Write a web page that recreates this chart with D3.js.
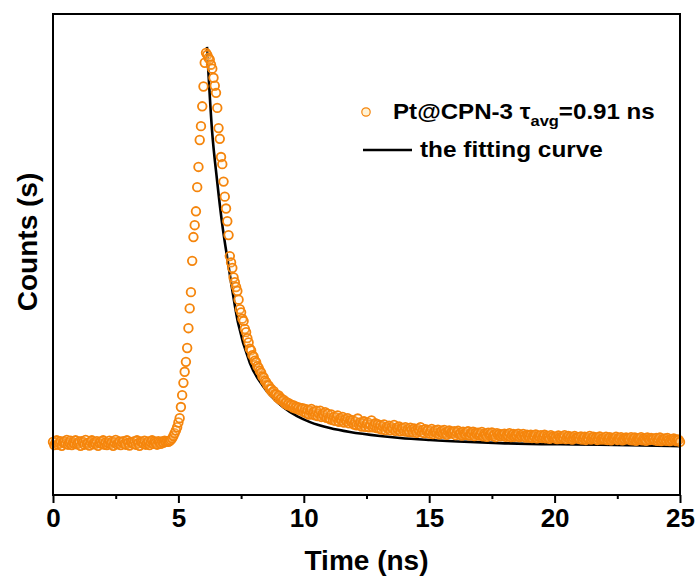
<!DOCTYPE html>
<html><head><meta charset="utf-8">
<script src="https://cdn.jsdelivr.net/npm/d3@7"></script>
<style>body{margin:0;background:#fff}</style>
</head><body>
<svg id="chart" width="697" height="577"></svg>
<script>
// TCSPC channel grid
const timeStart = 0;
const channelWidth = 0.05; // ns

// Counts per channel (arbitrary units)
const baselineCounts = [
  3,-5,2,7,-4,0,5,-7,2,4,-2,8,-4,1,6,-5,2,-2,7,-3,
  0,4,-7,5,2,-4,8,-2,1,-6,3,7,-3,2,-2,5,-7,0,4,-2,
  7,-4,2,-5,0,6,-2,3,-7,2,8,-3,0,4,-5,2,5,-2,-4,7,
  1,-6,3,2,-2,5,-4,7,0,-7,4,2,-2,6,-4,0,4,-5,2,7,
  -2,4,1,-4,5,2,-2,4,1,6,3,5
];
const riseCounts = [
  3,5,8,12,18,25,32,40,52,63,91,121,152,180,205,240,290,340,381,460,
  520,550,585,646,697,765,800,850,900,960,985
];
const decayCounts = [
  980,972,968,955,945,922,902,884,846,795,768,722,704,660,622,592,560,525,
  472,456,442,418,406,394,384,362,338,330,314,308,288,280,265,254,238,234,222,218,
  208,204,194,190,182,178,168,166,157,154,146,145,136,137,128,131,124,123,115,120,
  110,113,106,109,100,104,96,101,94,97,90,95,88,92,86,90,83,87
];
const tailCounts = [
  88,78,86,76,84,72,82,86,72,79,70,82,68,75,82,66,74,69,78,64,
  74,63,60,72,58,66,56,65,70,54,62,57,66,52,60,55,63,50,58,53,
  58,47,54,45,62,46,52,42,50,55,41,48,52,40,47,57,40,45,50,38,
  48,37,45,34,42,47,33,41,37,44,32,40,36,46,31,39,35,42,30,38,
  37,30,40,29,35,28,39,34,27,37,32,26,36,31,40,27,33,25,35,30,
  33,24,30,36,23,29,32,25,34,22,28,31,24,33,26,21,29,32,24,28,
  25,30,20,27,31,22,26,19,29,24,21,28,30,19,25,23,29,18,26,22,
  26,19,23,28,17,24,21,16,26,20,23,27,18,22,15,25,20,23,17,22,
  20,24,16,21,18,25,15,20,23,16,21,18,24,15,20,17,23,18,14,21,
  18,14,21,13,19,16,22,12,18,15,20,13,17,21,12,18,15,11,20,14,
  17,12,16,10,19,14,11,16,13,20,10,15,18,11,16,9,14,18,12,15,
  14,10,17,9,13,16,8,14,11,18,9,13,16,10,14,8,13,17,9,12,
  13,9,16,8,12,15,7,13,10,12,16,8,13,10,15,7,12,9,14,11,
  12,8,15,7,11,14,6,12,9,11,15,7,12,9,6,14,10,8,13,10,
  11,7,13,6,10,14,5,10,8,12,6,13,8,5,10,7,12,8,5,9,
  8,3
];

// Fitting curve
const fitTime   = [6.14,6.34,6.54,6.74,6.98,7.38,7.85,8.37,9.17,9.73,10.25,11.04,11.84,13.04,13.84,15.03,16.63,17.82,20.22,21.81,25.0];
const fitCounts = [1000,790,664,556,455,303,202,144,91,68,53,38,28,18,13,8,3,0,-3,-4,-8];

const xTicks = [0,5,10,15,20,25];
const xMinorTicks = [2.5,7.5,12.5,17.5,22.5];
const xTitle = "Time (ns)";
const yTitle = "Counts (s)";
const legendSample = "Pt@CPN-3";
const legendFit = "the fitting curve";

const allCounts = baselineCounts.concat(riseCounts, decayCounts, tailCounts);
const data = allCounts.map((c, i) => ({t: timeStart + i * channelWidth, c}));
const fit = fitTime.map((t, i) => ({t, c: fitCounts[i]}));

const svg = d3.select("#chart");
const L = 53, R = 680, T = 14, B = 495;
const x = d3.scaleLinear().domain([0, 25]).range([L, R]);
const y = d3.scaleLinear().domain([-131, 1083]).range([B, T]);
const FONT = "'Liberation Sans', Arial, sans-serif";
const ORANGE = "#f5850c";

// fit line
svg.append("path").datum(fit)
  .attr("d", d3.line().x(d => x(d.t)).y(d => y(d.c)).curve(d3.curveMonotoneX))
  .attr("fill", "none").attr("stroke", "#000").attr("stroke-width", 2.6);

// data markers
svg.append("g").selectAll("circle").data(data).join("circle")
  .attr("cx", d => x(d.t)).attr("cy", d => y(d.c)).attr("r", 4.3)
  .attr("fill", "#fff0d0").attr("fill-opacity", 0.15)
  .attr("stroke", ORANGE).attr("stroke-width", 1.8);

// frame
svg.append("rect").attr("x", L).attr("y", T).attr("width", R - L).attr("height", B - T)
  .attr("fill", "none").attr("stroke", "#000").attr("stroke-width", 2);

// axes
const gx = svg.append("g").attr("transform", `translate(0,${B})`)
  .call(d3.axisBottom(x).tickValues(xTicks).tickSize(8).tickPadding(6).tickFormat(d3.format("d")));
gx.select(".domain").remove();
gx.selectAll("line").attr("stroke", "#000").attr("stroke-width", 2);
gx.selectAll("text").attr("font-family", FONT).attr("font-weight", "bold").attr("font-size", 26).attr("fill", "#000");
const gm = svg.append("g").attr("transform", `translate(0,${B})`)
  .call(d3.axisBottom(x).tickValues(xMinorTicks).tickSize(4).tickFormat(""));
gm.select(".domain").remove();
gm.selectAll("line").attr("stroke", "#000").attr("stroke-width", 2);

// titles
svg.append("text").attr("x", (L + R) / 2).attr("y", 570).attr("text-anchor", "middle")
  .attr("font-family", FONT).attr("font-weight", "bold").attr("font-size", 28).text(xTitle);
svg.append("text").attr("transform", `translate(37,242) rotate(-90)`).attr("text-anchor", "middle")
  .attr("font-family", FONT).attr("font-weight", "bold").attr("font-size", 28).text(yTitle);

// legend
svg.append("circle").attr("cx", 366).attr("cy", 112).attr("r", 4.2)
  .attr("fill", "#fff3d6").attr("stroke", ORANGE).attr("stroke-width", 1.2);
function stretched(x0, y0, targetW) {
  const g = svg.append("g").attr("transform", `translate(${x0},${y0})`);
  const t = g.append("text").attr("font-family", FONT).attr("font-weight", "bold").attr("font-size", 22);
  return {g, t, fit() {
    const w = t.node().getComputedTextLength();
    g.attr("transform", `translate(${x0},${y0}) scale(${targetW / w},1)`);
  }};
}
const l1 = stretched(393, 119, 262);
l1.t.append("tspan").text(legendSample + " τ");
l1.t.append("tspan").attr("dy", 7).attr("font-size", 15).text("avg");
l1.t.append("tspan").attr("dy", -7).text("=0.91 ns");
l1.fit();
svg.append("line").attr("x1", 363).attr("x2", 412).attr("y1", 150).attr("y2", 150)
  .attr("stroke", "#000").attr("stroke-width", 2.6);
const l2 = stretched(420, 157, 183);
l2.t.text(legendFit);
l2.fit();
</script>
</body></html>
